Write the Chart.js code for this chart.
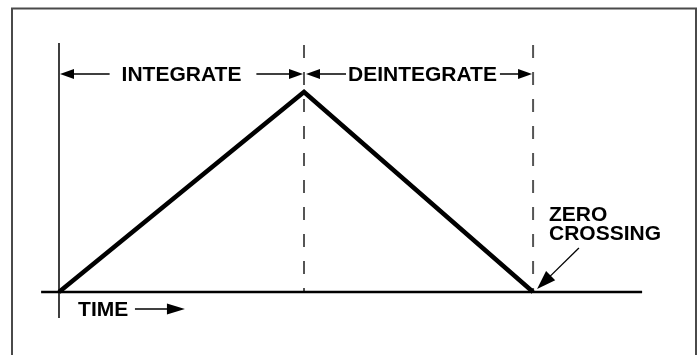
<!DOCTYPE html>
<html>
<head>
<meta charset="utf-8">
<script src="https://cdn.jsdelivr.net/npm/chart.js@4/dist/chart.umd.min.js"></script>
<style>
html,body{margin:0;padding:0;background:#fff;}
#wrap{width:700px;height:355px;}
</style>
</head>
<body>
<div id="wrap"><canvas id="c" width="700" height="355"></canvas></div>
<script>
// ---- data (time in integration periods, value relative to peak) ----
const waveTime   = [0, 1, 1.935];          // start, end of integrate, zero crossing
const waveValue  = [0, 1, 0];              // integrator output
const phaseLabels = ["INTEGRATE", "DEINTEGRATE"];
const phaseStart  = [0, 1];
const phaseEnd    = [1, 1.935];
const timeLabel   = "TIME";
const zeroLabel   = ["ZERO", "CROSSING"];

const baselineSpan  = [-0.073, 2.38];      // time extent of the zero axis
const originSpan    = [1.245, -0.13];      // value extent of the vertical axis at t=0
const markerSpan    = [1.235, 0];          // value extent of the dashed markers
const phaseLabelY   = 1.09;
const timeLabelPos  = [0.078, -0.085];
const timeArrowSpan = [0.31, 0.514];
const zeroLabelPos  = [2.0, 0.355];
const zeroArrowFrom = [2.122, 0.22];

const FONT = 'bold 21px "Liberation Sans", Arial, sans-serif';

function arrowHead(ctx, x, y, dir, len, half) {
  ctx.beginPath();
  ctx.moveTo(x, y);
  ctx.lineTo(x - dir * len, y - half);
  ctx.lineTo(x - dir * len, y + half);
  ctx.closePath();
  ctx.fill();
}

const annotate = {
  id: 'annotate',
  beforeDraw(chart) {
    const ctx = chart.ctx;
    ctx.save();
    ctx.fillStyle = '#fff';
    ctx.fillRect(0, 0, chart.width, chart.height);
    ctx.strokeStyle = '#4a4a4a';
    ctx.lineWidth = 2;
    ctx.strokeRect(12, 8.5, 684, 360);
    ctx.restore();
  },
  afterDraw(chart) {
    const ctx = chart.ctx;
    const xs = chart.scales.x, ys = chart.scales.y;
    const X = v => xs.getPixelForValue(v), Y = v => ys.getPixelForValue(v);
    ctx.save();
    ctx.fillStyle = '#000';
    ctx.strokeStyle = '#000';
    ctx.font = FONT;
    ctx.textBaseline = 'middle';
    ctx.textAlign = 'center';
    const py = Y(phaseLabelY);
    const gaps = [[12, 15], [2, 3]];
    phaseLabels.forEach((lab, i) => {
      const x0 = X(phaseStart[i]) + (i === 0 ? 1 : 2), x1 = X(phaseEnd[i]) - 1;
      const w = ctx.measureText(lab).width;
      const cx = i === 0 ? (x0 + x1) / 2 : x0 + gaps[i][0] + 40 + w / 2;
      ctx.fillText(lab, cx, py + 1);
      ctx.lineWidth = 1.5;
      ctx.beginPath();
      ctx.moveTo(x0 + 10, py); ctx.lineTo(cx - w / 2 - gaps[i][0], py);
      ctx.moveTo(cx + w / 2 + gaps[i][1], py); ctx.lineTo(x1 - 10, py);
      ctx.stroke();
      arrowHead(ctx, x0, py, -1, 14, 5);
      arrowHead(ctx, x1, py, 1, 14, 5);
    });
    // TIME label
    ctx.textAlign = 'left';
    ctx.fillText(timeLabel, X(timeLabelPos[0]), Y(timeLabelPos[1]) + 1);
    const ty = Y(timeLabelPos[1]);
    ctx.lineWidth = 1.5;
    ctx.beginPath();
    ctx.moveTo(X(timeArrowSpan[0]), ty); ctx.lineTo(X(timeArrowSpan[1]) - 10, ty);
    ctx.stroke();
    arrowHead(ctx, X(timeArrowSpan[1]), ty, 1, 18, 5.5);
    // ZERO CROSSING
    ctx.textBaseline = 'alphabetic';
    const zx = X(zeroLabelPos[0]), zy = Y(zeroLabelPos[1]);
    ctx.fillText(zeroLabel[0], zx, zy);
    ctx.fillText(zeroLabel[1], zx, zy + 19);
    const ax = X(zeroArrowFrom[0]), ay = Y(zeroArrowFrom[1]);
    const tx = X(waveTime[2]) + 4, tyy = Y(waveValue[2]) - 3;
    const ang = Math.atan2(tyy - ay, tx - ax);
    ctx.lineWidth = 1.3;
    ctx.beginPath();
    ctx.moveTo(ax, ay);
    ctx.lineTo(tx - 12 * Math.cos(ang), tyy - 12 * Math.sin(ang));
    ctx.stroke();
    ctx.translate(tx, tyy); ctx.rotate(ang);
    ctx.beginPath();
    ctx.moveTo(0, 0); ctx.lineTo(-19, -6.5); ctx.lineTo(-19, 6.5); ctx.closePath();
    ctx.fill();
    ctx.restore();
  }
};

new Chart(document.getElementById('c'), {
  type: 'line',
  data: {
    datasets: [
      { data: waveTime.map((t, i) => ({ x: t, y: waveValue[i] })),
        borderColor: '#000', borderWidth: 4.5, order: 0 },
      { data: baselineSpan.map(t => ({ x: t, y: 0 })),
        borderColor: '#000', borderWidth: 2.5, order: 1 },
      { data: originSpan.map(v => ({ x: waveTime[0], y: v })),
        borderColor: '#000', borderWidth: 1.5, order: 2 },
      { data: markerSpan.map(v => ({ x: waveTime[1], y: v })),
        borderColor: '#555', borderWidth: 2, borderDash: [13, 14], order: 3 },
      { data: markerSpan.map(v => ({ x: waveTime[2], y: v })),
        borderColor: '#555', borderWidth: 2, borderDash: [13, 14], order: 3 }
    ]
  },
  options: {
    responsive: false,
    animation: false,
    layout: { padding: 0 },
    elements: { point: { radius: 0 }, line: { tension: 0, borderCapStyle: 'butt' } },
    plugins: { legend: { display: false }, tooltip: { enabled: false } },
    scales: {
      x: { type: 'linear', display: false, min: -0.2408, max: 2.6163 },
      y: { type: 'linear', display: false, min: -0.315, max: 1.46 }
    }
  },
  plugins: [annotate]
});
</script>
</body>
</html>
